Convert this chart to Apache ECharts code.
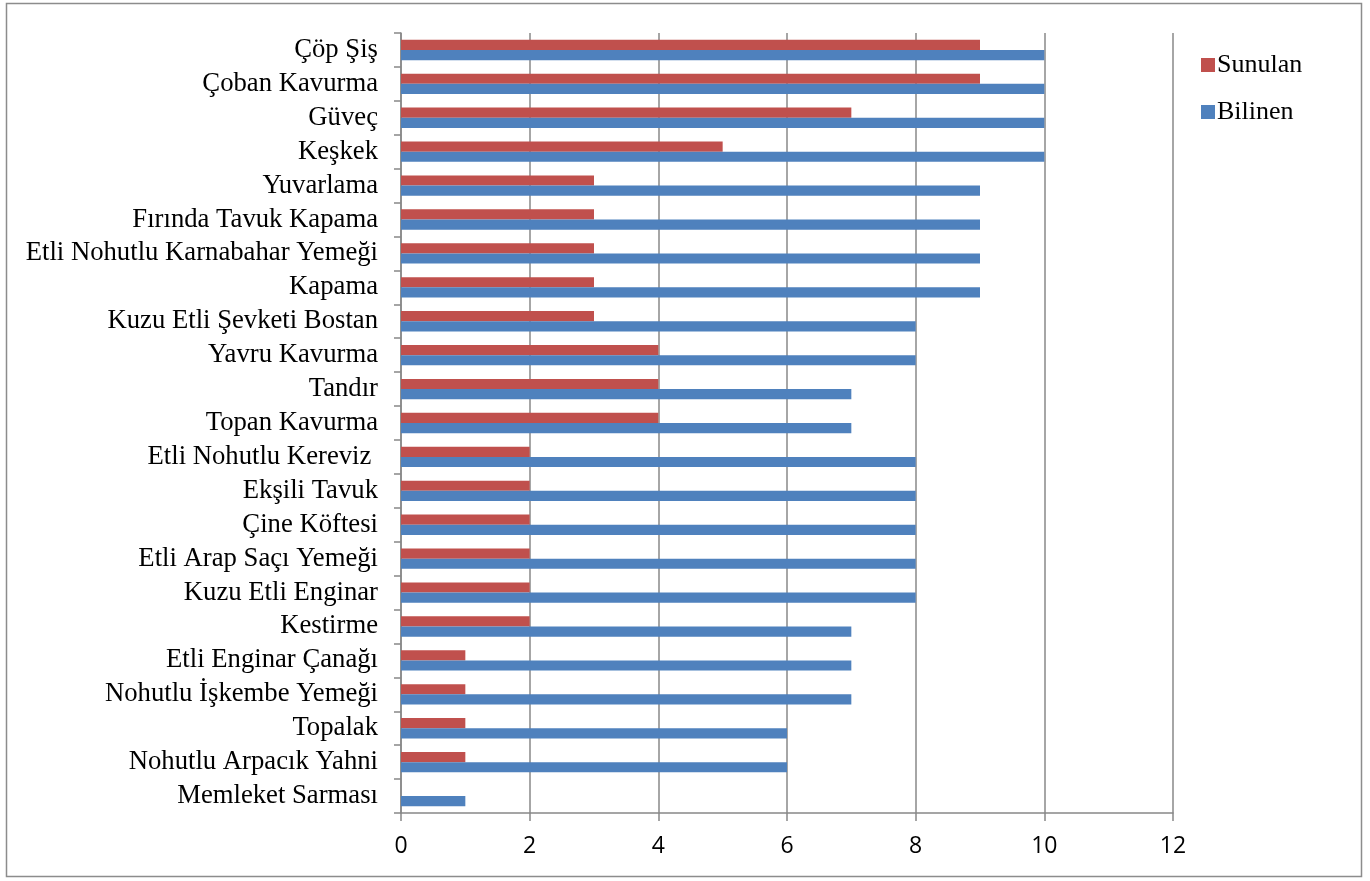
<!DOCTYPE html>
<html>
<head>
<meta charset="utf-8">
<script src="https://cdn.jsdelivr.net/npm/echarts@6/dist/echarts.min.js"></script>
<style>html,body{margin:0;padding:0;background:#fff}#c{width:1370px;height:881px}</style>
</head>
<body>
<div id="c"></div>
<script>
const categories = ["Çöp Şiş","Çoban Kavurma","Güveç","Keşkek","Yuvarlama","Fırında Tavuk Kapama","Etli Nohutlu Karnabahar Yemeği","Kapama","Kuzu Etli Şevketi Bostan","Yavru Kavurma","Tandır","Topan Kavurma","Etli Nohutlu Kereviz ","Ekşili Tavuk","Çine Köftesi","Etli Arap Saçı Yemeği","Kuzu Etli Enginar","Kestirme","Etli Enginar Çanağı","Nohutlu İşkembe Yemeği","Topalak","Nohutlu Arpacık Yahni","Memleket Sarması"];
const sunulan = [9,9,7,5,3,3,3,3,3,4,4,4,2,2,2,2,2,2,1,1,1,1,0];
const bilinen = [10,10,10,10,9,9,9,9,8,8,7,7,8,8,8,8,8,7,7,7,6,6,1];
const legendNames = ['Sunulan','Bilinen'];
const xTicks = {min:0,max:12,interval:2};

const chart = echarts.init(document.getElementById('c'));
chart.setOption({
  animation:false,
  graphic:[
    {type:'rect',shape:{x:6.5,y:3.5,width:1355,height:873},style:{fill:'none',stroke:'#8c8c8c',lineWidth:1.5}},
    {type:'text',x:1217,y:65,style:{text:legendNames[0],fontSize:26,fontFamily:'Liberation Serif',fill:'#000',verticalAlign:'middle'}},
    {type:'text',x:1217,y:112,style:{text:legendNames[1],fontSize:26,fontFamily:'Liberation Serif',fill:'#000',verticalAlign:'middle'}}
  ],
  legend:{orient:'vertical',left:1196,top:53,itemWidth:14,itemHeight:14,itemGap:33,icon:'rect',
    formatter:function(){return '';},
    textStyle:{fontSize:14},
    data:legendNames},
  grid:{left:401,right:197,top:33,bottom:68},
  xAxis:{type:'value',min:xTicks.min,max:xTicks.max,interval:xTicks.interval,
    axisLine:{show:true,lineStyle:{color:'#888',width:1.5}},
    axisTick:{show:true,length:8,lineStyle:{color:'#888',width:1.5}},
    axisLabel:{fontFamily:'Open Sans',fontSize:23,color:'#000',margin:22},
    splitLine:{show:true,lineStyle:{color:'#888',width:1.5}}},
  yAxis:{type:'category',data:categories,inverse:true,
    axisLine:{show:true,lineStyle:{color:'#888',width:1.5}},
    axisTick:{show:true,length:7,lineStyle:{color:'#888',width:1.5}},
    axisLabel:{fontFamily:'Liberation Serif',fontSize:26.7,color:'#000',margin:23,interval:0}},
  series:[
    {name:'Sunulan',type:'bar',data:sunulan,itemStyle:{color:'#C0504D'},barGap:'0%',barCategoryGap:'40%'},
    {name:'Bilinen',type:'bar',data:bilinen,itemStyle:{color:'#4F81BD'},barGap:'0%',barCategoryGap:'40%'}
  ]
});
</script>
</body>
</html>
